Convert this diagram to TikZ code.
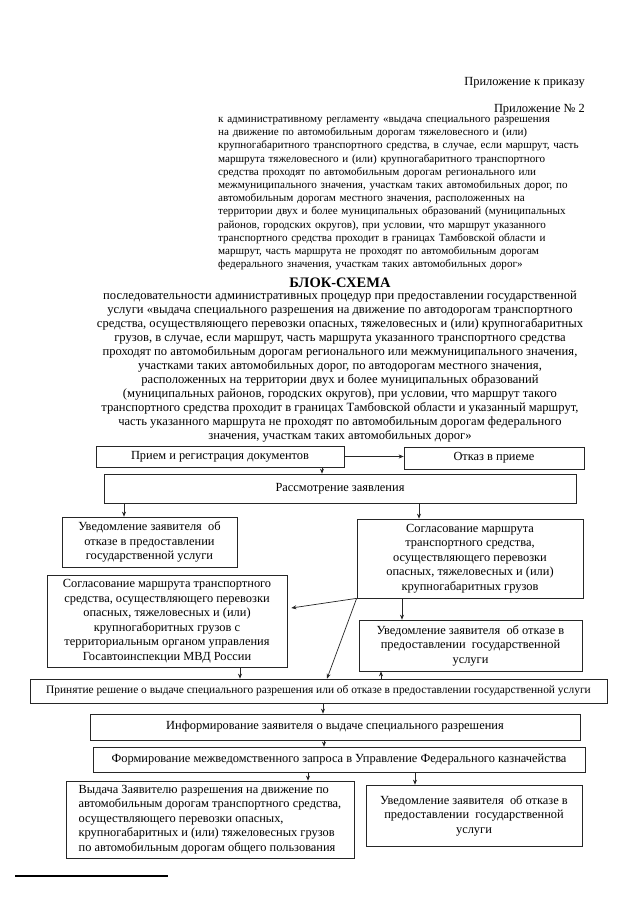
\documentclass[tikz,border=0pt]{standalone}
\usepackage{fontspec}
\setmainfont{Liberation Serif}
\usetikzlibrary{arrows.meta}
\begin{document}
\begin{tikzpicture}[x=1pt,y=-1pt,
  box/.style={draw=black!85, line width=0.7pt, inner sep=2pt, align=center, font=\fontsize{12.4}{14.5}\selectfont},
  arr/.style={draw=black!85, line width=0.7pt, -{Stealth[length=5pt,width=4pt]}},
  ln/.style={draw=black!85, line width=0.7pt}]
\useasboundingbox (0,0) rectangle (640,905);
\fill[white] (0,0) rectangle (640,905);

% header
\node[anchor=east, inner sep=0, font=\fontsize{12.4}{14}\selectfont] (pril1) at (585,83) {Приложение к приказу};
\node[anchor=east, inner sep=0, font=\fontsize{12.4}{14}\selectfont] (pril2) at (585,110) {Приложение № 2};
\node[anchor=north west, inner sep=0, align=left, text width=367pt, font=\fontsize{11.1}{13.2}\selectfont] (reg) at (218,117) {%
\makebox[367pt][s]{к административному регламенту «выдача специального разрешения}\\
\makebox[367pt][s]{на движение по автомобильным дорогам тяжеловесного и (или)}\\
\makebox[367pt][s]{крупногабаритного транспортного средства, в случае, если маршрут, часть}\\
\makebox[367pt][s]{маршрута тяжеловесного и (или) крупногабаритного транспортного}\\
\makebox[367pt][s]{средства проходят по автомобильным дорогам регионального или}\\
\makebox[367pt][s]{межмуниципального значения, участкам таких автомобильных дорог, по}\\
\makebox[367pt][s]{автомобильным дорогам местного значения, расположенных на}\\
\makebox[367pt][s]{территории двух и более муниципальных образований (муниципальных}\\
\makebox[367pt][s]{районов, городских округов), при условии, что маршрут указанного}\\
\makebox[367pt][s]{транспортного средства проходит в границах Тамбовской области и}\\
\makebox[367pt][s]{маршрут, часть маршрута не проходят по автомобильным дорогам}\\
федерального значения, участкам таких автомобильных дорог»};

\node[inner sep=0, font=\bfseries\fontsize{14.5}{16}\selectfont] (title) at (340,283) {БЛОК-СХЕМА};
\node[anchor=north, inner sep=0, align=center, font=\fontsize{12.6}{14}\selectfont] (desc) at (340,291) {%
последовательности административных процедур при предоставлении государственной\\
услуги «выдача специального разрешения на движение по автодорогам транспортного\\
средства, осуществляющего перевозки опасных, тяжеловесных и (или) крупногабаритных\\
грузов, в случае, если маршрут, часть маршрута указанного транспортного средства\\
проходят по автомобильным дорогам регионального или межмуниципального значения,\\
участками таких автомобильных дорог, по автодорогам местного значения,\\
расположенных на территории двух и более муниципальных образований\\
(муниципальных районов, городских округов), при условии, что маршрут такого\\
транспортного средства проходит в границах Тамбовской области и указанный маршрут,\\
часть указанного маршрута не проходят по автомобильным дорогам федерального\\
значения, участкам таких автомобильных дорог»};

% boxes
\node[box, minimum width=248pt, minimum height=21pt] (priem) at (220,456.5) {Прием и регистрация документов};
\node[box, minimum width=180pt, minimum height=22pt] (otkaz) at (494,458) {Отказ в приеме};
\node[box, minimum width=472pt, minimum height=29pt] (rassm) at (340,488.5) {Рассмотрение заявления};
\node[box, minimum width=175pt, minimum height=50pt] (uvedL) at (149.5,542) {Уведомление заявителя\ \ об\\отказе в предоставлении\\государственной услуги};
\node[box, minimum width=226pt, minimum height=79pt] (soglP) at (470,558.5) {Согласование маршрута\\транспортного средства,\\осуществляющего перевозки\\опасных, тяжеловесных и (или)\\крупногабаритных грузов};
\node[box, minimum width=240pt, minimum height=92pt] (mvd) at (167,621) {Согласование маршрута транспортного\\средства, осуществляющего перевозки\\опасных, тяжеловесных и (или)\\крупногаборитных грузов с\\территориальным органом управления\\Госавтоинспекции МВД России};
\node[box, minimum width=223pt, minimum height=51pt] (uvedP) at (470.5,645.5) {Уведомление заявителя\ \ об отказе в\\предоставлении\ \ государственной\\услуги};
\node[box, minimum width=577pt, minimum height=24pt, font=\fontsize{11.4}{13}\selectfont] (prin) at (318.5,691) {Принятие решение о выдаче специального разрешения или об отказе в предоставлении государственной услуги};
\node[box, minimum width=490pt, minimum height=26pt] (inform) at (335,727) {Информирование заявителя о выдаче специального разрешения};
\node[box, minimum width=492pt, minimum height=25pt] (form) at (339,759.5) {Формирование межведомственного запроса в Управление Федерального казначейства};
\node[box, minimum width=288pt, minimum height=77pt, align=left] (vyd) at (210,819.5) {Выдача Заявителю разрешения на движение по\\автомобильным дорогам транспортного средства,\\осуществляющего перевозки опасных,\\крупногабаритных и (или) тяжеловесных грузов\\по автомобильным дорогам общего пользования};
\node[box, minimum width=216pt, minimum height=61pt] (uvedB) at (474,815.5) {Уведомление заявителя\ \ об отказе в\\предоставлении\ \ государственной\\услуги};

% connectors
\draw[arr] (priem.east) -- (priem.east -| otkaz.west);
\draw[arr] (priem.south -| 322,0) -- (rassm.north -| 322,0);
\draw[arr] (rassm.south -| 124,0) -- (uvedL.north -| 124,0);
\draw[arr] (rassm.south -| 419,0) -- (soglP.north -| 419,0);
\draw[arr] (soglP.south west) -- ([xshift=4pt,yshift=13pt]mvd.east);
\draw[arr] (soglP.south west) -- (prin.north -| 327,0);
\draw[arr] (soglP.south -| 402,0) -- (uvedP.north -| 402,0);
\draw[arr] (prin.north -| 381,0) -- (uvedP.south -| 381,0);
\draw[arr] (mvd.south -| 240,0) -- (prin.north -| 240,0);
\draw[arr] (prin.south -| 323,0) -- (inform.north -| 323,0);
\draw[arr] (inform.south -| 324,0) -- (form.north -| 324,0);
\draw[arr] (form.south -| 308,0) -- (vyd.north -| 308,0);
\draw[arr] (form.south -| 415,0) -- (uvedB.north -| 415,0);

% footnote rule
\coordinate (fnA) at (15,876);
\coordinate (fnB) at (168,876);
\draw[line width=2pt] (fnA) -- (fnB);
\end{tikzpicture}
\end{document}
